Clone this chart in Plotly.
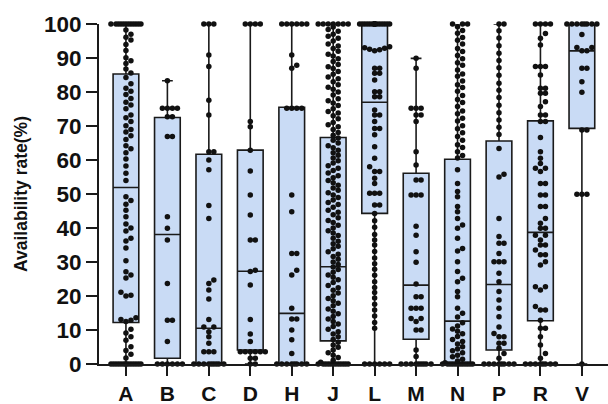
import plotly.graph_objects as go

categories = ["A", "B", "C", "D", "H", "J", "L", "M", "N", "P", "R", "V"]

# box statistics
q1 = [12.2, 1.7, 0.0, 4.1, 0.0, 6.8, 44.3, 7.3, 0.0, 4.1, 12.7, 69.3]
median = [51.9, 38.1, 10.5, 27.3, 14.9, 28.6, 77.0, 23.2, 12.6, 23.4, 38.7, 92.1]
q3 = [85.3, 72.5, 61.7, 62.9, 75.5, 66.6, 100.0, 56.1, 60.2, 65.6, 71.5, 100.0]
vmin = [0, 0, 0, 0, 0, 0, 0, 0, 0, 0, 0, 0]
vmax = [100, 83.3, 100, 100, 100, 100, 100, 89.9, 100, 100, 100, 100]

pts_A = ([100] * 12 + [98.2, 97.0, 96.1, 95.3, 94.0, 92.2, 90.1, 89.2, 88.4, 86.8, 85.6,
         84.3, 82.4, 81.1, 80.2, 79.3, 78.1, 77.0, 76.2, 75.1, 73.2, 72.4, 71.3, 70.1,
         69.0, 68.2, 67.1, 66.0, 64.2, 63.3, 62.1, 60.3, 58.2, 56.1, 54.0, 49.2, 48.1,
         47.0, 45.2, 43.3, 41.2, 40.0, 39.1, 37.0, 36.2, 34.1, 30.4, 27.1, 26.2, 25.3,
         21.1, 20.2, 20.0, 13.6, 13.1, 12.9, 12.5, 10.2, 9.1, 8.0, 7.0, 5.1, 4.0, 2.9,
         1.8] + [0] * 14)
pts_B = [0] * 6 + [6.6, 12.9, 12.9, 23.7, 36.5, 39.9, 43.3, 66.9, 66.9, 72.7, 72.7,
                   75.2, 75.2, 75.2, 75.2, 83.3]
pts_C = [0] * 9 + [3.6, 3.6, 3.6, 6.1, 8.0, 9.5, 10.9, 10.9, 13.1, 19.1, 21.8, 23.7,
                   24.7, 42.8, 46.6, 57.1, 60.0, 62.4, 62.4, 73.2, 77.6, 87.5, 90.9,
                   100, 100, 100]
pts_D = [0, 0, 1.7, 1.7, 3.6, 3.6, 3.6, 3.6, 3.6, 3.6, 6.6, 8.8, 13.1, 23.2, 27.2,
         27.6, 36.5, 36.5, 43.8, 49.7, 56.8, 62.9, 69.8, 71.3, 100, 100, 100, 100]
pts_H = [0] * 8 + [3.1, 7.1, 10.0, 13.2, 13.2, 16.4, 26.2, 27.6, 32.5, 32.5, 44.8, 49.7,
                   75.2, 75.2, 75.2, 75.2, 87.0, 87.9, 90.9] + [100] * 6
pts_J = ([100] * 7 + [99.1, 98.4, 97.9, 97.0, 96.4, 95.8, 95.0, 94.1, 93.5, 92.8, 92.0,
         91.1, 90.6, 89.8, 89.0, 88.1, 87.4, 86.9, 86.0, 85.2, 84.4, 83.9, 83.0, 82.1,
         81.4, 80.8, 80.0, 79.1, 78.0, 77.4, 76.8, 76.0, 75.1, 74.3, 73.8, 73.0, 72.1,
         71.0, 70.4, 69.8, 69.0, 68.1, 67.3, 66.5, 65.8, 65.0, 64.2, 63.6, 62.9, 62.1,
         61.4, 60.6, 59.8, 59.1, 58.3, 57.6, 56.9, 56.2, 55.4, 54.8, 54.0, 53.3, 52.6,
         51.8, 51.1, 50.4, 49.7, 49.0, 48.2, 47.5, 46.9, 46.1, 45.2, 44.6, 43.9, 43.0,
         42.2, 41.6, 40.8, 40.0, 39.2, 38.5, 37.8, 37.0, 36.1, 35.4, 34.6, 33.9, 33.0,
         32.3, 31.6, 30.8, 30.0, 29.3, 28.5, 27.8, 27.0, 26.2, 25.5, 24.8, 24.0, 23.1,
         22.4, 21.7, 20.9, 20.1, 19.3, 18.6, 17.9, 17.1, 16.2, 15.5, 14.8, 14.0, 13.2,
         12.5, 11.8, 11.0, 10.2, 9.5, 8.8, 8.0, 7.2, 6.4, 5.6, 4.9, 4.1, 3.3, 2.6, 1.9,
         1.1, 0.5] + [0] * 12)
pts_L = ([100] * 18 + [93.3, 93.0, 92.9, 92.6, 92.4, 92.1, 87.0, 87.0, 85.5, 85.5, 83.5,
         80.1, 80.1, 78.6, 78.6, 74.7, 73.2, 73.2, 71.3, 69.3, 69.3, 67.4, 63.9, 60.5,
         58.0, 56.6, 56.6, 54.6, 53.1, 50.2, 50.2, 50.2, 46.8, 46.8, 44.3, 42.1, 40.2,
         38.1, 36.5, 35.0, 33.1, 31.2, 29.5, 27.9, 26.1, 24.2, 22.5, 21.0, 19.4, 17.6,
         15.9, 14.1, 12.2, 10.5] + [0] * 6)
pts_M = [0] * 9 + [2.2, 4.1, 10.0, 10.0, 12.5, 13.4, 13.4, 16.4, 16.4, 16.4, 19.8,
                   19.8, 23.5, 29.9, 33.0, 37.9, 40.5, 49.7, 49.7, 49.7, 54.1, 54.1,
                   58.5, 62.4, 71.3, 73.2, 73.2, 75.2, 75.2, 75.2, 87.0, 89.9]
pts_N = ([100] * 3 + [99.2, 98.1, 97.3, 96.0, 95.2, 94.1, 92.8, 91.9, 90.7, 89.8, 88.6,
         87.9, 86.5, 85.3, 84.6, 83.2, 82.1, 81.3, 80.2, 79.0, 77.8, 76.9, 75.7, 74.4,
         73.6, 72.3, 71.5, 70.1, 69.2, 68.0, 66.9, 65.8, 64.5, 63.7, 62.4, 61.3, 60.6,
         57.1, 53.1, 50.7, 49.2, 46.3, 44.8, 42.8, 40.9, 39.9, 37.0, 34.0, 33.2, 30.1,
         27.2, 25.2, 24.2, 21.3, 19.8, 16.4, 14.9, 13.8, 12.1, 11.2, 10.3, 9.6, 8.9,
         8.1, 7.2, 6.6, 5.9, 5.1, 4.4, 3.9, 3.3, 2.6, 2.1, 1.4, 0.9, 0.4] + [0] * 12)
pts_P = ([0] * 8 + [1.7, 3.1, 4.6, 6.1, 6.1, 8.0, 8.0, 9.0, 10.9, 13.9, 16.4, 18.8, 21.3,
         24.2, 26.7, 30.1, 30.1, 30.1, 32.5, 35.5, 35.5, 37.5, 42.8, 55.8, 55.0, 63.4,
         67.5, 69.6, 71.8, 73.9, 76.1, 78.4, 80.5, 82.6, 84.9, 87.1, 89.3, 91.4, 93.6,
         95.9, 98.0] + [100] * 2)
pts_R = ([0] * 8 + [1.7, 3.1, 5.6, 8.0, 10.5, 10.5, 12.9, 15.9, 15.9, 16.9, 21.8, 22.7,
         22.7, 29.1, 30.1, 32.1, 32.1, 33.5, 35.0, 35.0, 36.5, 37.9, 37.9, 39.9, 39.9,
         41.4, 42.8, 46.3, 46.3, 49.7, 49.7, 53.1, 53.1, 56.6, 57.6, 57.6, 59.0, 60.5,
         62.4, 66.6, 71.3, 71.3, 73.2, 73.2, 75.7, 77.1, 79.6, 79.6, 81.1, 81.1, 85.0,
         87.5, 87.5, 87.5, 93.8, 95.8, 97.2] + [100] * 4)
pts_V = [0, 49.9, 49.9, 49.9, 68.8, 68.8, 79.9, 83.0, 87.0, 87.0, 92.1, 92.1, 93.1,
         93.1, 96.9] + [100] * 8

points = [pts_A, pts_B, pts_C, pts_D, pts_H, pts_J, pts_L, pts_M, pts_N, pts_P,
          pts_R, pts_V]

# plot geometry used only for the swarm layout of the dots
X_RANGE = (-0.65, 11.63)
PLOT_W = 608 - 99
PLOT_H = 364 - 24
PX_X = PLOT_W / (X_RANGE[1] - X_RANGE[0])
PX_Y = PLOT_H / 100.0


def swarm(vals, diam=5.0, max_half=15.0):
    placed = []
    res = []
    cands = [0.0]
    k = 1
    while k * diam <= max_half:
        cands += [k * diam, -k * diam]
        k += 1
    half = [c + diam / 2 for c in cands if abs(c + diam / 2) <= max_half]
    for v in sorted(vals):
        y = v * PX_Y
        near = [(px, py) for px, py in placed if abs(py - y) < diam]
        chosen = None
        for off in cands:
            if all((off - px) ** 2 + (y - py) ** 2 >= diam ** 2 for px, py in near):
                chosen = off
                break
        if chosen is None:
            best, bestd = 0.0, -1
            for off in cands + half:
                d = min((off - px) ** 2 + (y - py) ** 2 for px, py in near)
                if d > bestd:
                    best, bestd = off, d
            chosen = best
        placed.append((chosen, y))
        res.append((chosen / PX_X, v))
    return res


fig = go.Figure()
fig.add_trace(go.Box(
    x=list(range(len(categories))), q1=q1, median=median, q3=q3,
    lowerfence=vmin, upperfence=vmax,
    fillcolor="#c9dbf5", line=dict(color="#1a1a1a", width=1.6),
    width=0.62, whiskerwidth=0.42, boxpoints=False, showlegend=False,
))

xs, ys = [], []
for i, vals in enumerate(points):
    for off, v in swarm(vals):
        xs.append(i + off)
        ys.append(v)

fig.add_trace(go.Scatter(
    x=xs, y=ys, mode="markers", cliponaxis=False, showlegend=False,
    marker=dict(color="#111111", size=5.5, line=dict(width=0)),
))

fig.update_layout(
    width=608, height=404,
    margin=dict(l=99, r=0, t=24, b=40, autoexpand=False),
    paper_bgcolor="white", plot_bgcolor="white",
    font=dict(family="Liberation Sans, Arial, sans-serif", color="#111111"),
)
fig.update_xaxes(
    range=list(X_RANGE), tickmode="array", tickvals=list(range(len(categories))),
    ticktext=categories, showline=True, linecolor="#1a1a1a", linewidth=2,
    ticks="outside", ticklen=10, tickwidth=2, tickcolor="#1a1a1a",
    showgrid=False, zeroline=False, automargin=False,
    tickfont=dict(size=21, weight="bold", color="#111111"),
)
fig.update_yaxes(
    range=[0, 100], tickmode="array", tickvals=list(range(0, 101, 10)),
    showline=True, linecolor="#1a1a1a", linewidth=2,
    ticks="outside", ticklen=11, tickwidth=2, tickcolor="#1a1a1a",
    showgrid=False, zeroline=False, automargin=False,
    tickfont=dict(size=22.5, weight="bold", color="#111111"),
    title=dict(text="Availability rate(%)", standoff=12,
               font=dict(size=17.5, weight="bold", color="#111111")),
)

fig.write_html("out.html", config={"displayModeBar": False},
               post_script="document.body.style.margin='0';document.body.style.padding='0';")
